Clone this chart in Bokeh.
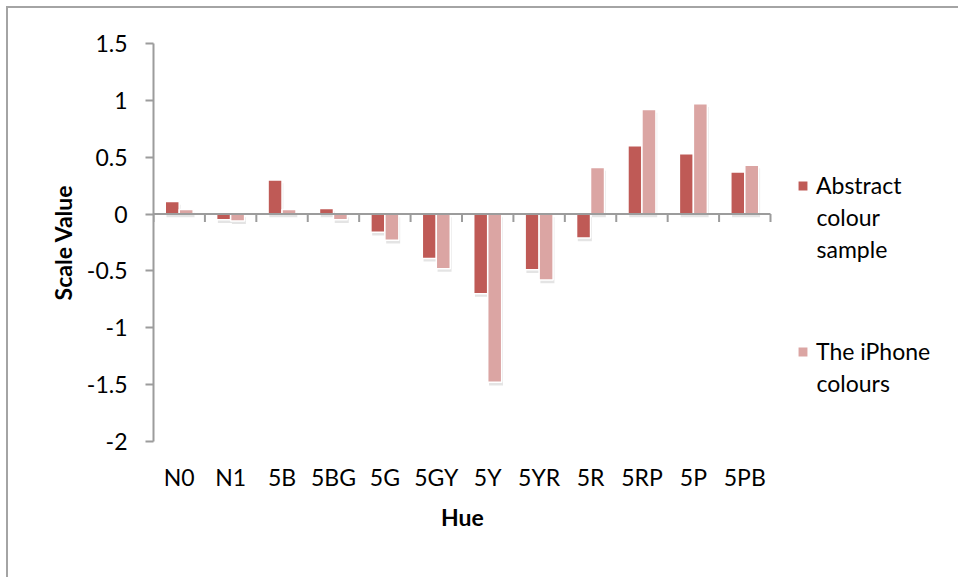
import numpy as np
from bokeh.plotting import figure
from bokeh.models import (Range1d, FixedTicker, Legend, LegendItem, Label, Title,
                          ColumnDataSource, CustomJSTickFormatter)
from bokeh.embed import file_html
from bokeh.resources import INLINE

# ---- data ----
categories = ["N0", "N1", "5B", "5BG", "5G", "5GY", "5Y", "5YR", "5R", "5RP", "5P", "5PB"]
abstract_sample = [0.11, -0.05, 0.30, 0.05, -0.16, -0.39, -0.70, -0.49, -0.21, 0.60, 0.53, 0.37]
iphone_colours = [0.04, -0.06, 0.04, -0.05, -0.23, -0.48, -1.48, -0.58, 0.41, 0.92, 0.97, 0.43]
y_ticks = [-2, -1.5, -1, -0.5, 0, 0.5, 1, 1.5]
series_lines = [["Abstract", "colour", "sample"], ["The iPhone", "colours"]]

FONT = "Lato"
FS = "23px"
C_ABS = "#BF5A56"
C_IPH = "#DBA5A3"
GRAY = "#9C9C9C"

# layout (pixels)
W, H = 952, 571
LEFT, TOP, BOTTOM = 145, 35, 138
FRAME_W = W - LEFT          # frame runs to the right edge (legend lives inside it)
FRAME_H = H - TOP - BOTTOM  # 398
BARS_W = 617                # width of the category area

n = len(categories)
x_end = n * FRAME_W / BARS_W
centers = np.arange(n) + 0.5
bw = 0.272
dy = 0.028
src = ColumnDataSource(dict(
    xa=centers - bw / 2, xi=centers + bw / 2,
    a=abstract_sample, i=iphone_colours,
    sa=np.array(abstract_sample) - dy, si=np.array(iphone_colours) - dy,
    sxa=centers - bw / 2 + 0.025, sxi=centers + bw / 2 + 0.025,
))

p = figure(width=W, height=H, x_range=Range1d(0, x_end), y_range=Range1d(-2, 1.5),
           output_backend="svg", toolbar_location=None,
           min_border_left=LEFT, min_border_top=TOP, min_border_right=0, min_border_bottom=BOTTOM,
           styles={"border-top": "2px solid #A4A4A4", "border-left": "2px solid #A4A4A4",
                   "margin-top": "6px", "margin-left": "6px"})
p.xgrid.visible = False
p.ygrid.visible = False
p.outline_line_color = None
p.background_fill_color = "white"
p.border_fill_color = "white"

# shadows
p.vbar(x="sxa", top="sa", bottom=-dy, width=bw, source=src, fill_color="#7a7a7a",
       fill_alpha=0.2, line_color=None)
p.vbar(x="sxi", top="si", bottom=-dy, width=bw, source=src, fill_color="#7a7a7a",
       fill_alpha=0.2, line_color=None)

ra = p.vbar(x="xa", top="a", bottom=0, width=bw, source=src, fill_color=C_ABS,
            line_color="white", line_width=1.5)
ri = p.vbar(x="xi", top="i", bottom=0, width=bw, source=src, fill_color=C_IPH,
            line_color="white", line_width=1.5)

# zero axis line with category-boundary ticks
bounds = np.arange(n + 1)
p.segment(x0=[0], y0=[0], x1=[n], y1=[0], line_color=GRAY, line_width=2)
p.segment(x0=bounds, y0=np.zeros(n + 1), x1=bounds, y1=np.full(n + 1, -0.07),
          line_color=GRAY, line_width=2)

# y axis
ya = p.yaxis[0]
ya.ticker = FixedTicker(ticks=y_ticks)
ya.formatter = CustomJSTickFormatter(code="return tick.toString();")
ya.axis_line_color = GRAY
ya.axis_line_width = 2
ya.major_tick_line_color = GRAY
ya.major_tick_line_width = 2
ya.major_tick_out = 8
ya.major_tick_in = 0
ya.minor_tick_line_color = None
ya.major_label_text_font = FONT
ya.major_label_text_font_size = FS
ya.major_label_text_color = "black"
ya.major_label_standoff = 18
ya.axis_label = "Scale Value"
ya.axis_label_text_font = FONT
ya.axis_label_text_font_style = "bold"
ya.axis_label_text_font_size = FS
ya.axis_label_text_color = "black"
ya.axis_label_standoff = 7

# x axis (labels only, at bottom)
xa = p.xaxis[0]
xa.ticker = FixedTicker(ticks=list(centers))
xa.formatter = CustomJSTickFormatter(args=dict(cats=categories),
                                     code="return cats[Math.floor(tick)];")
xa.axis_line_color = None
xa.major_tick_line_color = None
xa.minor_tick_line_color = None
xa.major_label_text_font = FONT
xa.major_label_text_font_size = FS
xa.major_label_text_color = "black"
xa.major_label_standoff = 15

# x-axis title, centred under the category area (not the whole frame)
p.add_layout(Title(text="Hue", align="left", offset=BARS_W / 2 - 21, standoff=14,
                   text_font=FONT, text_font_style="bold", text_font_size=FS,
                   text_color="black"), "below")

# legend: square + first line as a Legend, further lines as Labels
LEG_X = 643          # square left, from frame left
ITEM_H = 28
centers_px = [186, 352]      # item centre, from canvas top
for renderer, lines, cy in zip([ra, ri], series_lines, centers_px):
    frame_cy = cy - (TOP + 9)    # 9 = page offset (margin + border)
    leg = Legend(items=[LegendItem(label=lines[0], renderers=[renderer])],
                 location=(LEG_X, FRAME_H - frame_cy - ITEM_H / 2),
                 glyph_width=13, glyph_height=13, label_standoff=7, label_height=ITEM_H,
                 padding=0, margin=0, border_line_color=None, background_fill_alpha=0,
                 label_text_font=FONT, label_text_font_size=FS, label_text_color="black")
    p.add_layout(leg, "center")
    for k, line in enumerate(lines[1:], start=1):
        p.add_layout(Label(x=LEG_X + 20, y=FRAME_H - frame_cy - 31.5 * k,
                           x_units="screen", y_units="screen", text=line,
                           text_baseline="middle", text_font=FONT, text_font_size=FS,
                           text_color="black"))

open("out.html", "w").write(file_html(p, INLINE))
